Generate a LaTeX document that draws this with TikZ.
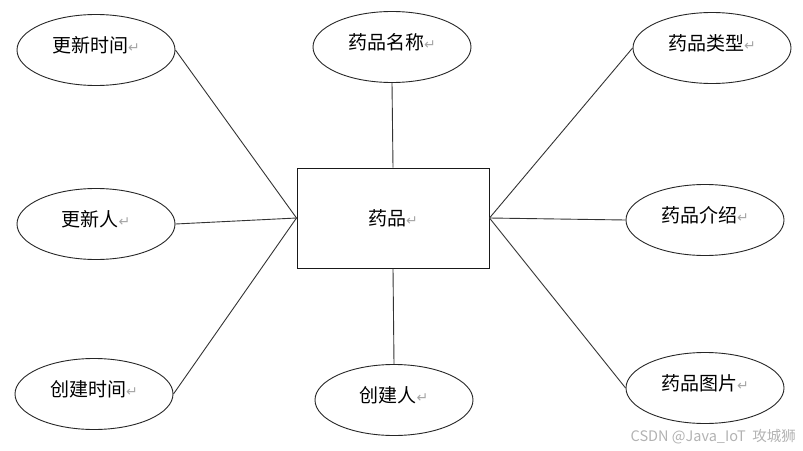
\documentclass[tikz,border=0pt]{standalone}
\usepackage{fontspec}
\newfontfamily\cjk{Noto Sans CJK SC}
\newfontfamily\dejavu{DejaVu Sans}
\usetikzlibrary{shapes.geometric}
\newcommand\retmark{{\dejavu\color{black!35}\fontsize{14}{14}\selectfont ↵}}
\begin{document}
\begin{tikzpicture}[x=1pt,y=-1pt,
  attr/.style={draw=black!85, line width=0.9pt, ellipse, minimum width=158pt, minimum height=71pt, inner sep=0pt,
    font=\cjk\fontsize{19}{22}\selectfont, text height=15pt, text depth=10pt},
  ent/.style={draw=black!90, line width=1pt, rectangle, minimum width=192pt, minimum height=100pt, inner sep=0pt,
    font=\cjk\fontsize{19}{22}\selectfont},
  link/.style={draw=black!80, line width=0.9pt},
  wm/.style={font=\cjk\fontsize{14.5}{17}\selectfont, text=black!30, inner sep=0pt}]
\useasboundingbox (0,0) rectangle (803,450);
\node[ent] (e) at (393,218) {药品\retmark};
\node[attr] (a1) at (96,50) {更新时间\retmark};
\node[attr] (a2) at (96,224) {更新人\retmark};
\node[attr] (a3) at (94,394) {创建时间\retmark};
\node[attr] (a4) at (392,47) {药品名称\retmark};
\node[attr] (a5) at (394,400) {创建人\retmark};
\node[attr] (a6) at (712,48) {药品类型\retmark};
\node[attr] (a7) at (705,220) {药品介绍\retmark};
\node[attr] (a8) at (705,388) {药品图片\retmark};
\draw[link] (a1.east) -- (e.west);
\draw[link] (a2.east) -- (e.west);
\draw[link] (a3.east) -- (e.west);
\draw[link] (a4.south) -- (e.north);
\draw[link] (a5.north) -- (e.south);
\draw[link] (a6.west) -- (e.east);
\draw[link] (a7.west) -- (e.east);
\draw[link] (a8.west) -- (e.east);
\node[wm, anchor=east] (wm) at (796,437) {CSDN @Java\_IoT\ \ 攻城狮};
\end{tikzpicture}
\end{document}
